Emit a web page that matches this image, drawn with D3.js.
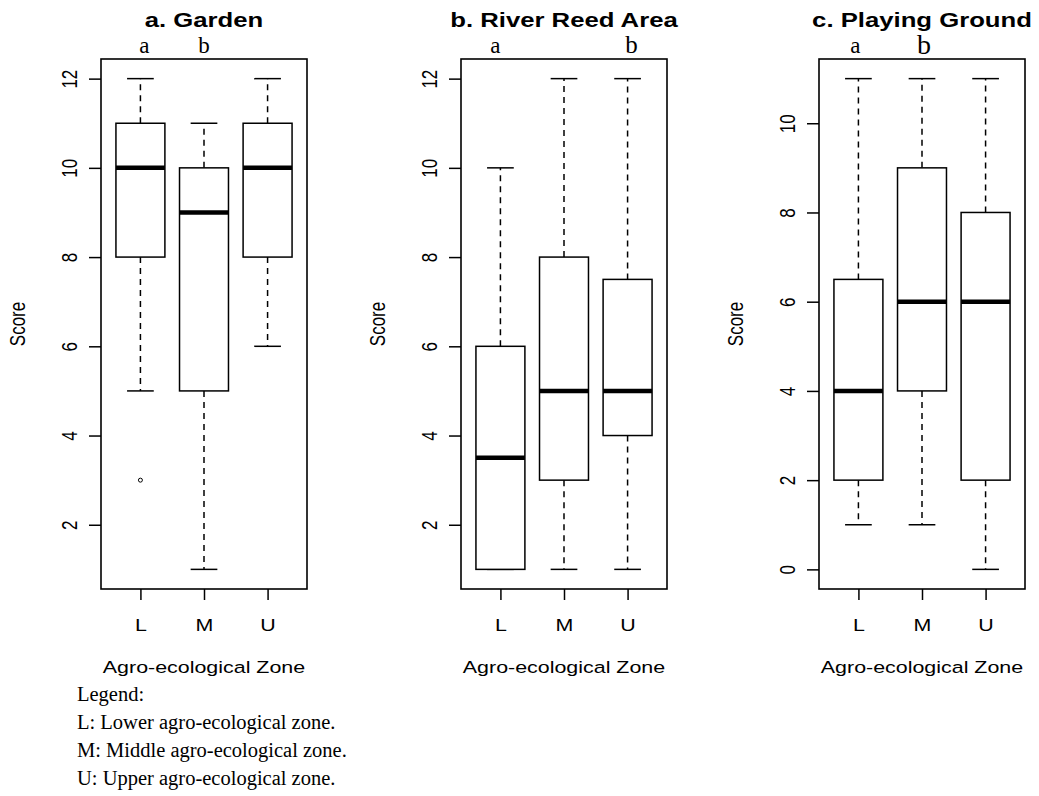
<!DOCTYPE html>
<html>
<head>
<meta charset="utf-8">
<script src="https://cdn.jsdelivr.net/npm/d3@7"></script>
<style>
  html, body { margin: 0; padding: 0; background: #fff; }
  svg { display: block; }
  .sans { font-family: "Liberation Sans", Arial, Helvetica, sans-serif; }
  .serif { font-family: "Liberation Serif", "Times New Roman", serif; }
</style>
</head>
<body>
<svg id="chart" width="1039" height="796"></svg>
<script>
// ---------------- data ----------------
const categories = ["L", "M", "U"];
const panelTitles = ["a. Garden", "b. River Reed Area", "c. Playing Ground"];
const yAxisTitle = "Score";
const xAxisTitle = "Agro-ecological Zone";

// five-number summaries per zone: [lower whisker, Q1, median, Q3, upper whisker]
const gardenStats = [[5, 8, 10, 11, 12], [1, 5, 9, 10, 11], [6, 8, 10, 11, 12]];
const riverStats  = [[1, 1, 3.5, 6, 10], [1, 3, 5, 8, 12], [1, 4, 5, 7.5, 12]];
const playStats   = [[1, 2, 4, 6.5, 11], [1, 4, 6, 9, 11], [0, 2, 6, 8, 11]];

const gardenOutliers = [[3], [], []];
const riverOutliers  = [[], [], []];
const playOutliers   = [[], [], []];

const gardenTicks = [2, 4, 6, 8, 10, 12];
const riverTicks  = [2, 4, 6, 8, 10, 12];
const playTicks   = [0, 2, 4, 6, 8, 10];

// significance letters above the zones
const gardenLetters = [{ cat: "L", lab: "a" }, { cat: "M", lab: "b" }];
const riverLetters  = [{ cat: "L", lab: "a" }, { cat: "U", lab: "b" }];
const playLetters   = [{ cat: "L", lab: "a" }, { cat: "M", lab: "b" }];

const legendLines = [
  "Legend:",
  "L: Lower agro-ecological zone.",
  "M: Middle agro-ecological zone.",
  "U: Upper agro-ecological zone."
];

// ---------------- layout ----------------
const panels = [
  { title: panelTitles[0], stats: gardenStats, out: gardenOutliers, ticks: gardenTicks, letters: gardenLetters,
    left: 101, letterDx: [4, 0], letterSize: [23, 23] },
  { title: panelTitles[1], stats: riverStats, out: riverOutliers, ticks: riverTicks, letters: riverLetters,
    left: 461, letterDx: [-5, 4], letterSize: [23, 25] },
  { title: panelTitles[2], stats: playStats, out: playOutliers, ticks: playTicks, letters: playLetters,
    left: 819, letterDx: [-3, 2], letterSize: [23, 28] }
];
const W = 206, TOP = 59, BOTTOM = 589;
const SX = 1.26;            // horizontal stretch of the plot text
const boxW = 0.77, capW = 0.42;

const svg = d3.select("#chart");

panels.forEach(p => {
  const g = svg.append("g");
  const x = d3.scaleLinear().domain([0.38, 3.62]).range([p.left, p.left + W]);
  const all = p.stats.flat().concat(p.out.flat());
  const lo = d3.min(all), hi = d3.max(all), pad = (hi - lo) * 0.04;
  const y = d3.scaleLinear().domain([lo - pad, hi + pad]).range([BOTTOM, TOP]);

  // boxes
  p.stats.forEach((s, i) => {
    const cx = x(i + 1);
    const bw = (x(1 + boxW) - x(1));
    const cw = (x(1 + capW) - x(1));
    // whiskers (dashed)
    g.append("line").attr("x1", cx).attr("x2", cx).attr("y1", y(s[3])).attr("y2", y(s[4]))
      .attr("stroke", "#000").attr("stroke-width", 1.5).attr("stroke-dasharray", "6,5");
    g.append("line").attr("x1", cx).attr("x2", cx).attr("y1", y(s[1])).attr("y2", y(s[0]))
      .attr("stroke", "#000").attr("stroke-width", 1.5).attr("stroke-dasharray", "6,5");
    // caps
    [s[0], s[4]].forEach(v => {
      g.append("line").attr("x1", cx - cw / 2).attr("x2", cx + cw / 2).attr("y1", y(v)).attr("y2", y(v))
        .attr("stroke", "#000").attr("stroke-width", 1.5);
    });
    // box
    g.append("rect").attr("x", cx - bw / 2).attr("width", bw)
      .attr("y", y(s[3])).attr("height", y(s[1]) - y(s[3]))
      .attr("fill", "#fff").attr("stroke", "#000").attr("stroke-width", 1.5);
    // median
    g.append("line").attr("x1", cx - bw / 2).attr("x2", cx + bw / 2).attr("y1", y(s[2])).attr("y2", y(s[2]))
      .attr("stroke", "#000").attr("stroke-width", 4.5);
    // outliers
    p.out[i].forEach(v => {
      g.append("circle").attr("cx", cx).attr("cy", y(v)).attr("r", 2)
        .attr("fill", "none").attr("stroke", "#000").attr("stroke-width", 1);
    });
  });

  // frame
  g.append("rect").attr("x", p.left).attr("y", TOP).attr("width", W).attr("height", BOTTOM - TOP)
    .attr("fill", "none").attr("stroke", "#000").attr("stroke-width", 1.6);

  // y axis
  const ya = g.append("g").attr("transform", `translate(${p.left},0)`)
    .call(d3.axisLeft(y).tickValues(p.ticks).tickSize(12).tickSizeOuter(0));
  ya.select(".domain").remove();
  ya.selectAll(".tick line").attr("stroke", "#000").attr("stroke-width", 1.5);
  ya.selectAll(".tick text")
    .attr("x", null).attr("dy", null).attr("class", "sans")
    .attr("font-size", 17).attr("fill", "#000").attr("text-anchor", "middle")
    .attr("transform", `translate(-24,0) scale(${SX},1) rotate(-90)`);

  // x axis
  const xa = g.append("g").attr("transform", `translate(0,${BOTTOM})`)
    .call(d3.axisBottom(x).tickValues([1, 2, 3]).tickFormat(d => categories[d - 1]).tickSize(11).tickSizeOuter(0));
  xa.select(".domain").remove();
  xa.selectAll(".tick line").attr("stroke", "#000").attr("stroke-width", 1.5);
  xa.selectAll(".tick text")
    .attr("y", null).attr("dy", null).attr("class", "sans")
    .attr("font-size", 17).attr("fill", "#000").attr("text-anchor", "middle")
    .attr("transform", `translate(0,42) scale(${SX},1)`);

  const mid = p.left + W / 2;
  // title
  g.append("text").attr("class", "sans").attr("font-weight", "bold").attr("font-size", 20.4)
    .attr("text-anchor", "middle").attr("transform", `translate(${mid},27) scale(${SX},1)`)
    .text(p.title);
  // x axis title
  g.append("text").attr("class", "sans").attr("font-size", 17)
    .attr("text-anchor", "middle").attr("transform", `translate(${mid},673) scale(${SX},1)`)
    .text(xAxisTitle);
  // y axis title
  g.append("text").attr("class", "sans").attr("font-size", 17)
    .attr("text-anchor", "middle")
    .attr("transform", `translate(${p.left - 76},${(TOP + BOTTOM) / 2}) scale(${SX},1) rotate(-90)`)
    .text(yAxisTitle);

  // significance letters
  p.letters.forEach((l, k) => {
    const ci = categories.indexOf(l.cat) + 1;
    g.append("text").attr("class", "serif").attr("font-size", p.letterSize[k])
      .attr("text-anchor", "middle")
      .attr("x", x(ci) + p.letterDx[k]).attr("y", k === 1 && p.letterSize[k] > 25 ? 54 : 53)
      .text(l.lab);
  });
});

// legend
svg.append("g").selectAll("text").data(legendLines).join("text")
  .attr("class", "serif").attr("font-size", 20.5).attr("fill", "#000")
  .attr("x", 77).attr("y", (d, i) => 701 + i * 28)
  .text(d => d);
</script>
</body>
</html>
